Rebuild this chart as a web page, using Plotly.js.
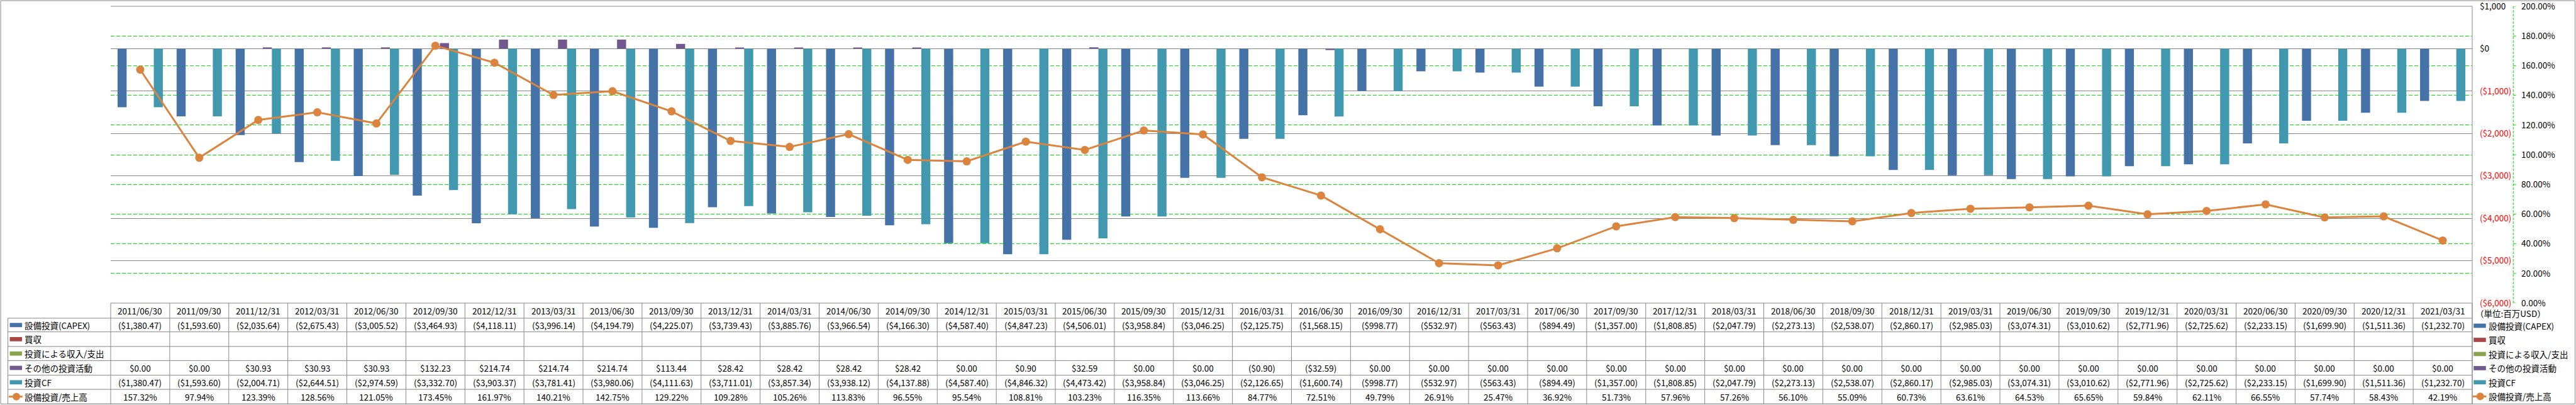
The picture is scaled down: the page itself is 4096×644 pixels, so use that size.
<!DOCTYPE html>
<html>
<head>
<meta charset="utf-8">
<script src="https://cdn.plot.ly/plotly-3.0.1.min.js"></script>
<style>
html,body{margin:0;padding:0;background:#fff;overflow:hidden}
#chart{width:4096px;height:644px}
</style>
</head>
<body>
<div id="chart"></div>
<script>
// ---------------- DATA ----------------
const dates = ["2011/06/30","2011/09/30","2011/12/31","2012/03/31","2012/06/30","2012/09/30","2012/12/31","2013/03/31","2013/06/30","2013/09/30",
"2013/12/31","2014/03/31","2014/06/30","2014/09/30","2014/12/31","2015/03/31","2015/06/30","2015/09/30","2015/12/31","2016/03/31",
"2016/06/30","2016/09/30","2016/12/31","2017/03/31","2017/06/30","2017/09/30","2017/12/31","2018/03/31","2018/06/30","2018/09/30",
"2018/12/31","2019/03/31","2019/06/30","2019/09/30","2019/12/31","2020/03/31","2020/06/30","2020/09/30","2020/12/31","2021/03/31"];

const capex = [-1380.47,-1593.60,-2035.64,-2675.43,-3005.52,-3464.93,-4118.11,-3996.14,-4194.79,-4225.07,
-3739.43,-3885.76,-3966.54,-4166.30,-4587.40,-4847.23,-4506.01,-3958.84,-3046.25,-2125.75,
-1568.15,-998.77,-532.97,-563.43,-894.49,-1357.00,-1808.85,-2047.79,-2273.13,-2538.07,
-2860.17,-2985.03,-3074.31,-3010.62,-2771.96,-2725.62,-2233.15,-1699.90,-1511.36,-1232.70];

// 買収: no values reported
const acquisitions = [null,null,null,null,null,null,null,null,null,null,null,null,null,null,null,null,null,null,null,null,
null,null,null,null,null,null,null,null,null,null,null,null,null,null,null,null,null,null,null,null];

// 投資による収入/支出: no values reported
const investProceeds = [null,null,null,null,null,null,null,null,null,null,null,null,null,null,null,null,null,null,null,null,
null,null,null,null,null,null,null,null,null,null,null,null,null,null,null,null,null,null,null,null];

const otherInvesting = [0,0,30.93,30.93,30.93,132.23,214.74,214.74,214.74,113.44,
28.42,28.42,28.42,28.42,0,0.90,32.59,0,0,-0.90,
-32.59,0,0,0,0,0,0,0,0,0,
0,0,0,0,0,0,0,0,0,0];

const investCF = [-1380.47,-1593.60,-2004.71,-2644.51,-2974.59,-3332.70,-3903.37,-3781.41,-3980.06,-4111.63,
-3711.01,-3857.34,-3938.12,-4137.88,-4587.40,-4846.32,-4473.42,-3958.84,-3046.25,-2126.65,
-1600.74,-998.77,-532.97,-563.43,-894.49,-1357.00,-1808.85,-2047.79,-2273.13,-2538.07,
-2860.17,-2985.03,-3074.31,-3010.62,-2771.96,-2725.62,-2233.15,-1699.90,-1511.36,-1232.70];

const capexRatio = [157.32,97.94,123.39,128.56,121.05,173.45,161.97,140.21,142.75,129.22,
109.28,105.26,113.83,96.55,95.54,108.81,103.23,116.35,113.66,84.77,
72.51,49.79,26.91,25.47,36.92,51.73,57.96,57.26,56.10,55.09,
60.73,63.61,64.53,65.65,59.84,62.11,66.55,57.74,58.43,42.19];

const seriesNames = ["設備投資(CAPEX)","買収","投資による収入/支出","その他の投資活動","投資CF","設備投資/売上高"];
const seriesColors = ["#4572A7","#AA4643","#89A54E","#71588F","#4198AF","#DB843D"];

const usdTicks = [-6000,-5000,-4000,-3000,-2000,-1000,0,1000];
const usdTickLabels = ["($6,000)","($5,000)","($4,000)","($3,000)","($2,000)","($1,000)","$0","$1,000"];
const pctTicks = [0,20,40,60,80,100,120,140,160,180,200];
const pctTickLabels = ["0.00%","20.00%","40.00%","60.00%","80.00%","100.00%","120.00%","140.00%","160.00%","180.00%","200.00%"];
const unitLabel = "（単位:百万USD）";

// ---------------- GEOMETRY (reference px * 0.75) ----------------
const S = 0.75;
const W = 4096, H = 644;
const L = 234*S, R = 5242*S, T = 13*S, B = 643*S;
const PW = R - L, PH = B - T;
const px = v => (v*S - L)/PW;
const py = v => (B - v*S)/PH;
const FONT = '"Noto Sans CJK JP", "Noto Sans", sans-serif';
const FS = 13.5;
const GRAY = '#888888';
const ROWS = [643, 675, 704, 735, 765, 796, 826, 857];
const N = dates.length;

function fmtUSD(v){
  if (v === null || v === undefined) return '';
  const s = Math.abs(v).toLocaleString('en-US',{minimumFractionDigits:2, maximumFractionDigits:2});
  return v < 0 ? '($' + s + ')' : '$' + s;
}
function fmtPct(v){ return v.toFixed(2) + '%'; }

// ---------------- TRACES ----------------
const barSeries = [capex, acquisitions, investProceeds, otherInvesting, investCF];
const traces = barSeries.map((ys, i) => ({
  type:'bar', x: dates, y: ys, name: seriesNames[i],
  marker:{color: seriesColors[i], line:{width:0}}, hoverinfo:'skip'
}));
traces.push({
  type:'scatter', mode:'lines+markers', x: dates, y: capexRatio, yaxis:'y2',
  name: seriesNames[5], line:{color: seriesColors[5], width:3},
  marker:{color: seriesColors[5], size:13}, hoverinfo:'skip'
});

// ---------------- SHAPES ----------------
const shapes = [];
function ln(x0,y0,x1,y1,color,width,dash){
  shapes.push({type:'line', xref:'paper', yref:'paper', x0, y0, x1, y1, layer:'above',
    line:{color, width, dash: dash || 'solid'}});
}
// outer chart border
shapes.push({type:'rect', xref:'paper', yref:'paper', x0:px(0.7), x1:px(5460), y0:py(1), y1:py(857),
  line:{color:GRAY, width:1}, fillcolor:'rgba(0,0,0,0)', layer:'above'});
// plot top & right border
ln(px(234), py(13), px(5242), py(13), GRAY, 1);
ln(px(5242), py(13), px(5242), py(857), GRAY, 1);
// table horizontal lines
ln(px(234), py(ROWS[0]), px(5242), py(ROWS[0]), GRAY, 1);
for (let r = 1; r < ROWS.length; r++) ln(px(16), py(ROWS[r]), px(5242), py(ROWS[r]), GRAY, 1);
// table left border
ln(px(16), py(ROWS[1]), px(16), py(ROWS[7]), GRAY, 1);
// column lines
for (let k = 0; k <= N; k++) ln(k/N, py(ROWS[0]), k/N, py(ROWS[7]), GRAY, 1);
// secondary axis line (green dashed) + ticks
ln(px(5329), py(13), px(5329), py(643), '#00dd00', 1, '4px,2px');
pctTicks.forEach(v => shapes.push({type:'line', xref:'paper', yref:'y2', x0:px(5329), x1:px(5335), y0:v, y1:v,
  line:{color:'#00dd00', width:1}}));

// legend keys (table row headers and right-side legend)
function key(i, xl, xr, yc){
  if (i < 5) {
    shapes.push({type:'rect', xref:'paper', yref:'paper', x0:px(xl), x1:px(xr), y0:py(yc-4.5), y1:py(yc+4.5),
      fillcolor: seriesColors[i], line:{width:0}, layer:'above'});
  } else {
    ln(px(xl-2), py(yc), px(xr+1), py(yc), seriesColors[i], 3);
    const cx = (xl + xr)/2 + 1;
    shapes.push({type:'circle', xref:'paper', yref:'paper', x0:px(cx-8), x1:px(cx+8), y0:py(yc-8), y1:py(yc+8),
      fillcolor: seriesColors[i], line:{width:0}, layer:'above'});
  }
}

// ---------------- ANNOTATIONS ----------------
const annotations = [];
function txt(x, y, text, xanchor){
  annotations.push({xref:'paper', yref:'paper', x, y, text, showarrow:false,
    xanchor: xanchor || 'center', yanchor:'middle', font:{family:FONT, size:FS, color:'#000'}});
}
const rowCenter = r => (ROWS[r] + ROWS[r+1]) / 2;
// header row: dates
dates.forEach((d, k) => txt((k + 0.5)/N, py(rowCenter(0)), d));
// data rows
const rowTexts = [
  capex.map(fmtUSD), acquisitions.map(fmtUSD), investProceeds.map(fmtUSD),
  otherInvesting.map(fmtUSD), investCF.map(fmtUSD), capexRatio.map(fmtPct)
];
rowTexts.forEach((vals, r) => {
  const yc = rowCenter(r + 1);
  vals.forEach((t, k) => { if (t) txt((k + 0.5)/N, py(yc), t); });
  key(r, 20, 46, yc);
  txt(px(49), py(yc), seriesNames[r], 'left');
});
// right-side legend
txt(px(5246), py(665), unitLabel, 'left');
const legendY = [691, 721, 751, 781, 811, 841];
seriesNames.forEach((nm, i) => {
  key(i, 5245, 5271, legendY[i]);
  txt(px(5274), py(legendY[i]), nm, 'left');
});

// ---------------- LAYOUT ----------------
const layout = {
  width: W, height: H,
  margin: {l: L, r: W - R, t: T, b: H - B, pad: 0},
  paper_bgcolor: '#ffffff', plot_bgcolor: '#ffffff',
  showlegend: false,
  barmode: 'group', bargap: 0.233, bargroupgap: 0,
  font: {family: FONT, size: FS, color: '#000'},
  xaxis: {type:'category', range:[-0.5, N - 0.5], showticklabels:false, showgrid:false,
    zeroline:false, showline:false, ticks:'', fixedrange:true},
  yaxis: {side:'right', range:[-6000, 1000], tickmode:'array', tickvals: usdTicks,
    ticktext: usdTickLabels.map((t, i) => usdTicks[i] < 0 ? '<span style="color:#ff0000">' + t + '</span>' : t),
    showgrid:true, gridcolor:'#868686', gridwidth:1, zeroline:false, showline:false, ticks:'',
    ticklabelstandoff: 11, ticklabeloverflow:'allow',
    tickfont:{family:FONT, size:FS, color:'#000'}, fixedrange:true},
  yaxis2: {overlaying:'y', side:'right', range:[0, 200], tickmode:'array', tickvals: pctTicks,
    ticktext: pctTickLabels, showgrid:true, gridcolor:'#00ee00', griddash:'6px,3px', gridwidth:1,
    zeroline:false, showline:false, ticks:'', ticklabelstandoff: 77, ticklabeloverflow:'allow',
    tickfont:{family:FONT, size:FS, color:'#000'}, fixedrange:true},
  shapes, annotations
};

Plotly.newPlot('chart', traces, layout, {staticPlot:true, displayModeBar:false});
</script>
</body>
</html>
